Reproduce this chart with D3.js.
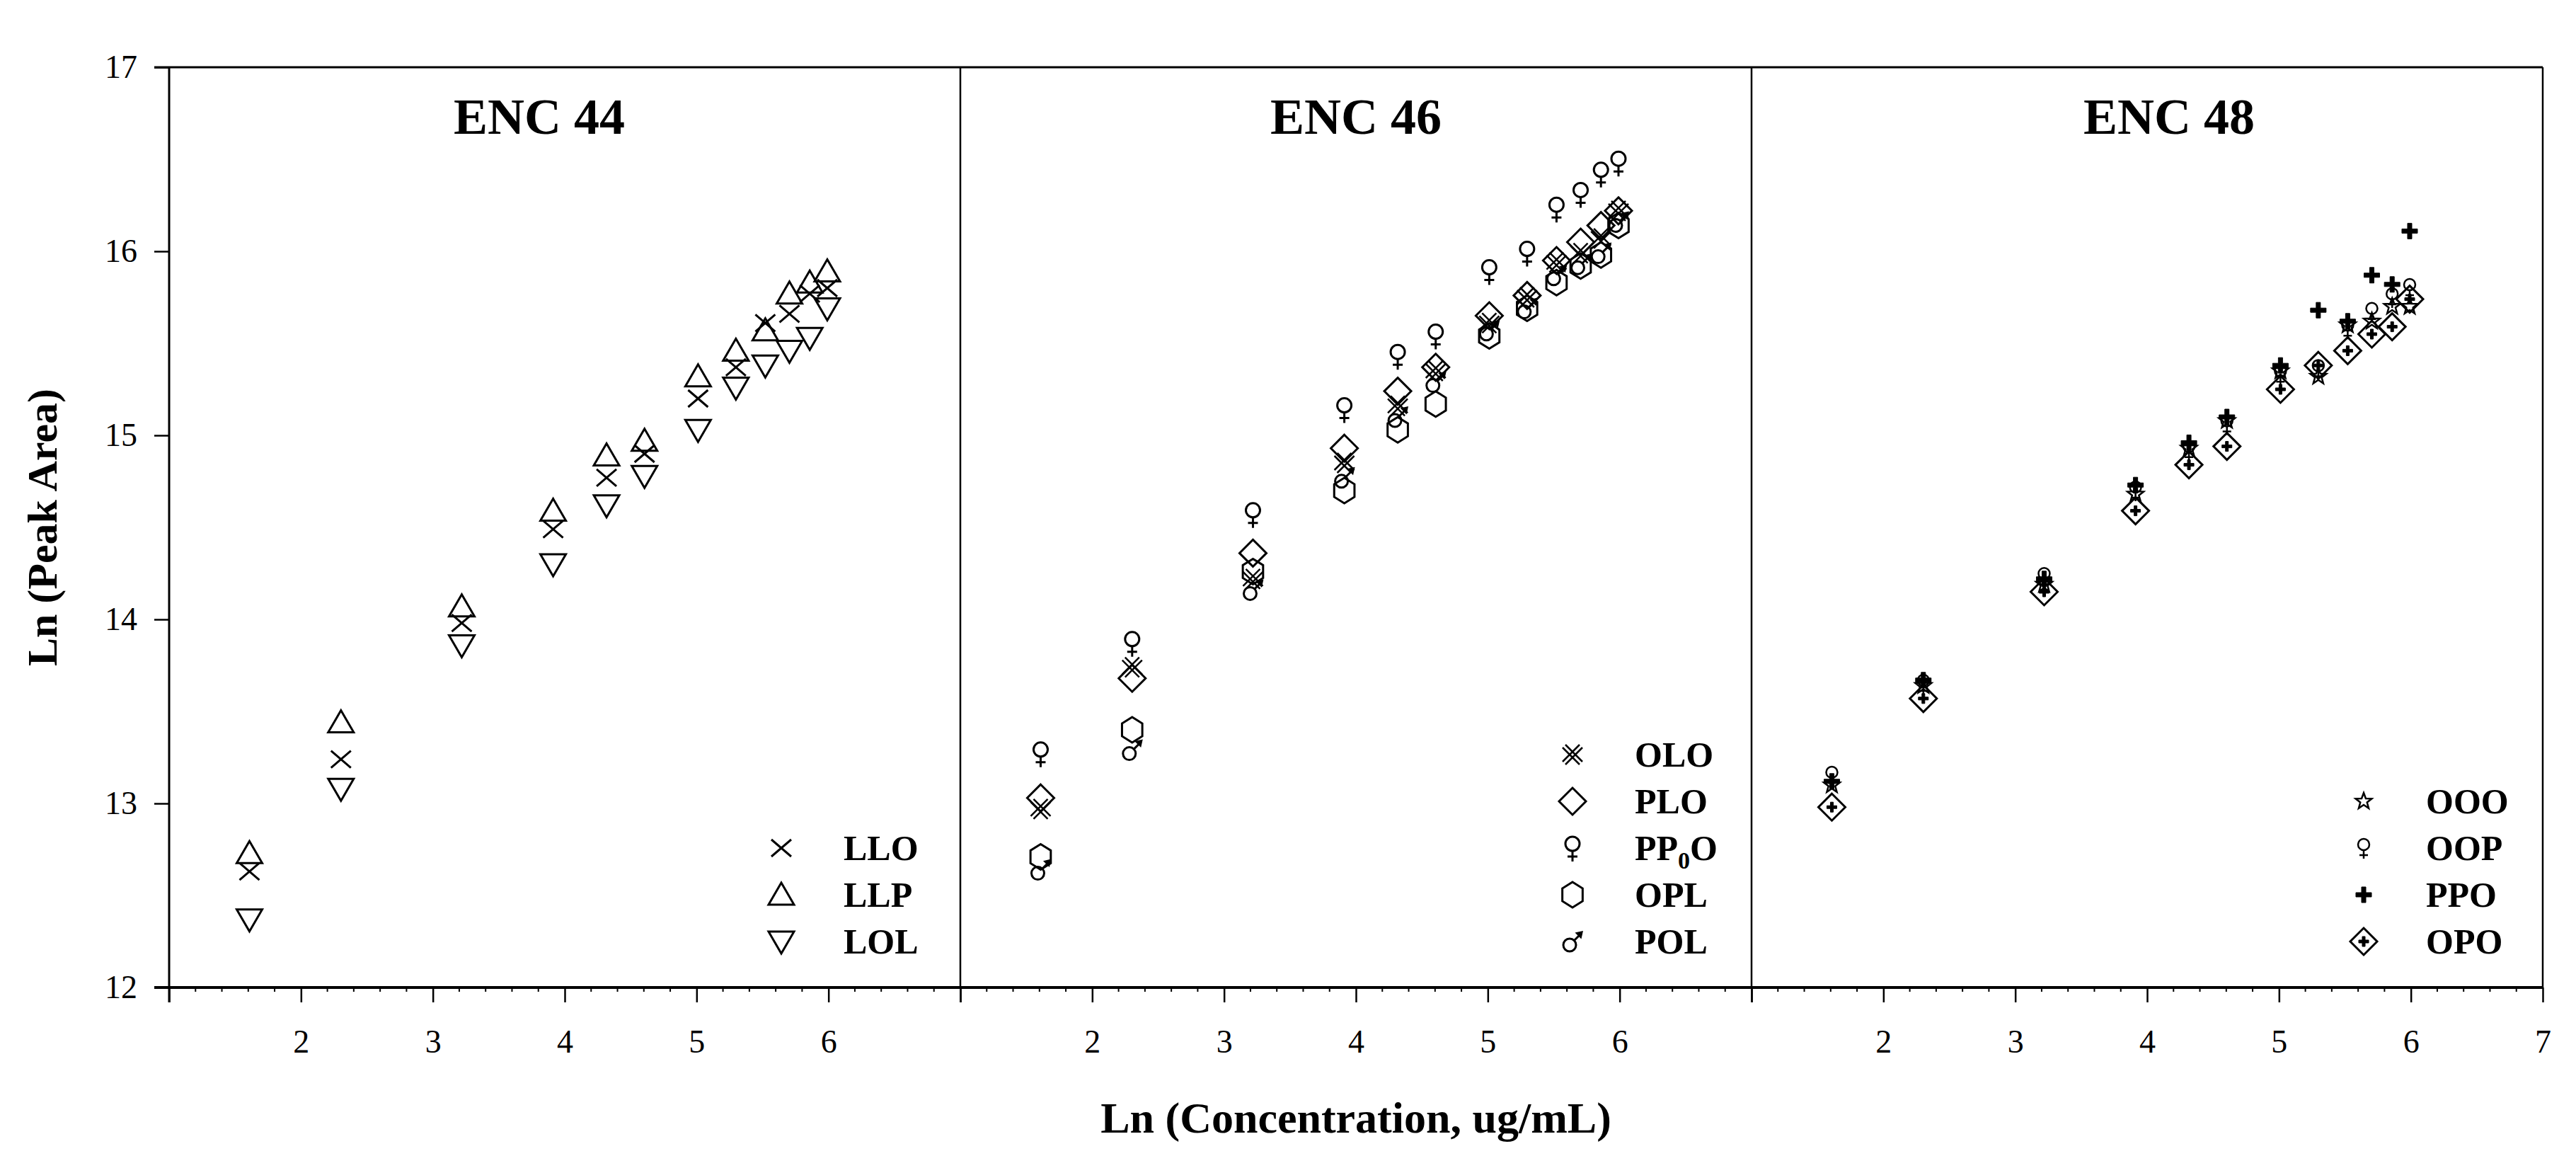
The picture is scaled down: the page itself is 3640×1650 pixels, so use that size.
<!DOCTYPE html>
<html><head><meta charset="utf-8">
<script src="https://cdn.jsdelivr.net/npm/d3@7"></script>
<style>html,body{margin:0;padding:0;background:#fff;}svg{display:block;}</style>
</head><body>
<script>
// ---- data ----
const lnConc = [1.609, 2.303, 3.219, 3.912, 4.317, 4.605, 5.011, 5.298, 5.521, 5.704, 5.858, 5.991];

// ENC 44
const LLO = [12.63, 13.24, 13.98, 14.49, 14.77, 14.90, 15.20, 15.37, 15.61, 15.66, 15.77, 15.80];
const LLP = [12.73, 13.44, 14.07, 14.59, 14.89, 14.97, 15.32, 15.46, 15.57, 15.77, 15.83, 15.89];
const LOL = [12.37, 13.08, 13.86, 14.30, 14.62, 14.78, 15.03, 15.26, 15.38, 15.46, 15.53, 15.69];
// ENC 46
const OLO = [12.97, 13.74, 14.22, 14.85, 15.16, 15.35, 15.61, 15.75, 15.94, 15.99, 16.07, 16.22];
const PLO = [13.03, 13.68, 14.36, 14.93, 15.24, 15.37, 15.65, 15.76, 15.95, 16.05, 16.14, 16.22];
const PP0O = [13.27, 13.87, 14.57, 15.14, 15.43, 15.54, 15.89, 15.99, 16.23, 16.31, 16.42, 16.48];
const OPL = [12.71, 13.40, 14.26, 14.70, 15.03, 15.17, 15.54, 15.69, 15.83, 15.92, 15.98, 16.14];
const POL = [12.64, 13.29, 14.16, 14.77, 15.10, 15.29, 15.57, 15.69, 15.87, 15.93, 15.99, 16.16];
// ENC 48
const OOO = [13.10, 13.64, 14.19, 14.68, 14.93, 15.08, 15.35, 15.32, 15.60, 15.62, 15.70, 15.70];
const OOP = [13.15, 13.65, 14.23, 14.70, 14.92, 15.06, 15.33, 15.36, 15.58, 15.67, 15.75, 15.80];
const PPO = [13.12, 13.67, 14.22, 14.73, 14.96, 15.10, 15.38, 15.68, 15.62, 15.87, 15.82, 16.11];
const OPO = [12.98, 13.57, 14.15, 14.59, 14.84, 14.94, 15.25, 15.38, 15.46, 15.55, 15.59, 15.74];

const panelTitles = ["ENC 44", "ENC 46", "ENC 48"];
const yTicks = [12, 13, 14, 15, 16, 17];
const xTicks = [1, 2, 3, 4, 5, 6, 7];
const xTickLabels = [["2","3","4","5","6"], ["2","3","4","5","6"], ["2","3","4","5","6","7"]];
const yTitle = "Ln (Peak Area)";
const xTitle = "Ln (Concentration, ug/mL)";

const panels = [
  {title: panelTitles[0], series: [
    {name: "LLO", sym: "x", values: LLO},
    {name: "LLP", sym: "triUp", values: LLP},
    {name: "LOL", sym: "triDown", values: LOL}]},
  {title: panelTitles[1], series: [
    {name: "OLO", sym: "dblx", values: OLO},
    {name: "PLO", sym: "diamond", values: PLO},
    {name: "PP0O", sym: "female", values: PP0O},
    {name: "OPL", sym: "hex", values: OPL},
    {name: "POL", sym: "male", values: POL}]},
  {title: panelTitles[2], series: [
    {name: "OOO", sym: "star", values: OOO},
    {name: "OOP", sym: "femaleSmall", values: OOP},
    {name: "PPO", sym: "plus", values: PPO},
    {name: "OPO", sym: "diamondDot", values: OPO}]}
];

// ---- layout ----
const W = 3640, H = 1650;
const plotTop = 95, plotBottom = 1395;
const left0 = 239, panelW = 1118;
const titleX = [762, 1916, 3065];
const font = "'Liberation Serif', 'Times New Roman', serif";

const svg = d3.select("body").append("svg").attr("width", W).attr("height", H)
  .style("font-family", font);

const y = d3.scaleLinear().domain([12, 17]).range([plotBottom, plotTop]);

// marker drawing
function drawMarker(g, sym) {
  const st = {fill: "none", stroke: "#000", "stroke-width": 3};
  function p(d, o) { const e = g.append("path").attr("d", d); Object.entries(Object.assign({}, st, o||{})).forEach(([k,v]) => e.attr(k, v)); return e; }
  switch (sym) {
    case "x": p("M-14,-12L14,12M-14,12L14,-12"); break;
    case "triUp": p("M0,-17L18,14L-18,14Z"); break;
    case "triDown": p("M-18,-14L18,-14L0,17Z"); break;
    case "dblx": p("M-14,-10L10,14M-10,-14L14,10M-14,10L10,-14M-10,14L14,-10", {"stroke-width": 2.5}); break;
    case "diamond": p("M0,-19L19,0L0,19L-19,0Z"); break;
    case "female":
      g.append("circle").attr("cx", 0).attr("cy", -6).attr("r", 10).attr("fill", "none").attr("stroke", "#000").attr("stroke-width", 3);
      p("M0,4L0,19M-7,12L7,12"); break;
    case "femaleSmall":
      g.append("circle").attr("cx", 0).attr("cy", -5).attr("r", 8).attr("fill", "none").attr("stroke", "#000").attr("stroke-width", 2.5);
      p("M0,3L0,15M-6,10L6,10", {"stroke-width": 2.5}); break;
    case "hex": {
      const r = 18, pts = d3.range(6).map(i => { const a = Math.PI/2 + i*Math.PI/3; return [r*Math.cos(a)*0.92, r*Math.sin(a)]; });
      p("M" + pts.map(q => q.join(",")).join("L") + "Z"); break; }
    case "male":
      g.append("circle").attr("cx", -4).attr("cy", 5).attr("r", 9).attr("fill", "none").attr("stroke", "#000").attr("stroke-width", 3);
      p("M2,-1L12,-11");
      p("M14,-14L5,-12L12,-5Z", {fill: "#000", "stroke-width": 1.5}); break;
    case "star": {
      const pts = d3.range(10).map(i => { const r = i % 2 ? 5 : 12, a = -Math.PI/2 + i*Math.PI/5; return [r*Math.cos(a), r*Math.sin(a)]; });
      p("M" + pts.map(q => q.map(v => v.toFixed(2)).join(",")).join("L") + "Z", {"stroke-width": 2.5}); break; }
    case "plus": p("M-3,-11H3V-3H11V3H3V11H-3V3H-11V-3H-3Z", {fill: "#000", "stroke-width": 1}); break;
    case "diamondDot":
      p("M0,-19L19,0L0,19L-19,0Z");
      p("M-2,-7H2V-2H7V2H2V7H-2V2H-7V-2H-2Z", {fill: "#000", "stroke-width": 1}); break;
  }
}

panels.forEach((panel, i) => {
  const x0 = left0 + i * panelW;
  const x = d3.scaleLinear().domain([1, 7]).range([x0, x0 + panelW]);
  const g = svg.append("g");

  // bottom axis with major ticks
  const labels = xTickLabels[i];
  const ax = d3.axisBottom(x).tickValues(xTicks).tickSize(21).tickPadding(8)
    .tickFormat(d => labels.includes(String(d)) ? String(d) : "");
  const axG = g.append("g").attr("transform", `translate(0,${plotBottom})`).call(ax);
  axG.select(".domain").remove();
  axG.selectAll(".tick line").attr("stroke", "#000").attr("stroke-width", 2.5);
  axG.selectAll(".tick text").attr("font-family", font).attr("font-size", 46).attr("fill", "#000")
    .attr("dy", null).attr("y", 92);
  // minor ticks
  const minor = d3.range(1.2, 7, 0.2).filter(v => Math.abs(v - Math.round(v)) > 0.05);
  g.append("g").selectAll("line").data(minor).join("line")
    .attr("x1", d => x(d)).attr("x2", d => x(d)).attr("y1", plotBottom).attr("y2", plotBottom + 6)
    .attr("stroke", "#000").attr("stroke-width", 2);

  // panel frame (vertical edges)
  g.append("line").attr("x1", x0 + panelW).attr("x2", x0 + panelW).attr("y1", plotTop).attr("y2", plotBottom)
    .attr("stroke", "#000").attr("stroke-width", 2.5);

  // title
  g.append("text").attr("x", titleX[i]).attr("y", 189).attr("text-anchor", "middle")
    .attr("font-size", 72).attr("font-weight", "bold").text(panel.title);

  // points
  panel.series.forEach(s => {
    g.append("g").selectAll("g").data(s.values.map((v, k) => [lnConc[k], v])).join("g")
      .attr("transform", d => `translate(${x(d[0])},${y(d[1])})`)
      .each(function() { drawMarker(d3.select(this), s.sym); });
  });

  // legend
  const n = panel.series.length, rowH = 66, lastY = 1330;
  panel.series.forEach((s, k) => {
    const cy = lastY - (n - 1 - k) * rowH;
    drawMarker(g.append("g").attr("transform", `translate(${x0 + 865},${cy})`), s.sym);
    const t = g.append("text").attr("x", x0 + 953).attr("y", cy + 17)
      .attr("font-size", 50).attr("font-weight", "bold");
    if (s.name === "PP0O") {
      t.append("tspan").text("PP");
      t.append("tspan").attr("font-size", 34).attr("dy", 12).text("0");
      t.append("tspan").attr("dy", -12).text("O");
    } else t.text(s.name);
  });
});

// y axis (left)
const yAx = d3.axisLeft(y).tickValues(yTicks).tickSize(21).tickPadding(24).tickFormat(d3.format("d"));
const yG = svg.append("g").attr("transform", `translate(${left0},0)`).call(yAx);
yG.select(".domain").remove();
yG.selectAll(".tick line").attr("stroke", "#000").attr("stroke-width", 2.5);
yG.selectAll(".tick text").attr("font-family", font).attr("font-size", 46).attr("fill", "#000");
svg.append("line").attr("x1", left0).attr("x2", left0).attr("y1", plotTop).attr("y2", plotBottom + 21)
  .attr("stroke", "#000").attr("stroke-width", 3);

// top and bottom lines
const right = left0 + 3 * panelW;
svg.append("line").attr("x1", left0 - 21).attr("x2", right).attr("y1", plotTop).attr("y2", plotTop)
  .attr("stroke", "#000").attr("stroke-width", 3);
svg.append("line").attr("x1", left0 - 21).attr("x2", right).attr("y1", plotBottom).attr("y2", plotBottom)
  .attr("stroke", "#000").attr("stroke-width", 4);

// axis titles
svg.append("text").attr("transform", `translate(80,${(plotTop + plotBottom) / 2}) rotate(-90)`)
  .attr("text-anchor", "middle").attr("font-size", 60).attr("font-weight", "bold").text(yTitle);
svg.append("text").attr("x", 1916).attr("y", 1600).attr("text-anchor", "middle")
  .attr("font-size", 62).attr("font-weight", "bold").text(xTitle);
</script>
</body></html>
